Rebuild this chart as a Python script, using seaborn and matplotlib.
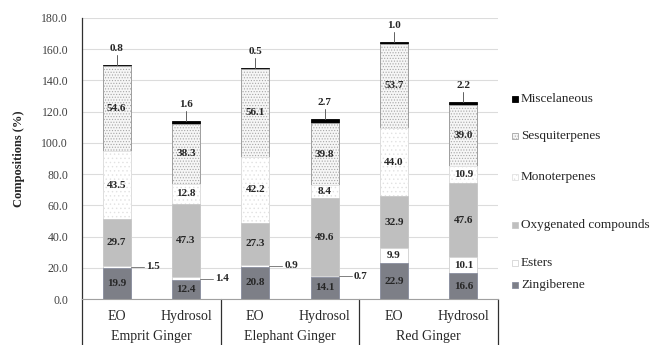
import matplotlib
matplotlib.use("Agg")
import matplotlib.pyplot as plt
import matplotlib.transforms as mtransforms
from matplotlib.patches import Rectangle
import numpy as np
import pandas as pd
import seaborn as sns

# ---------------- data ----------------
groups = ["Emprit Ginger", "Elephant Ginger", "Red Ginger"]
samples = ["EO", "Hydrosol"]
bar_ids = ["Emprit EO", "Emprit Hydrosol", "Elephant EO", "Elephant Hydrosol", "Red EO", "Red Hydrosol"]

zingiberene = [19.9, 12.4, 20.8, 14.1, 22.9, 16.6]
esters = [1.5, 1.4, 0.9, 0.7, 9.9, 10.1]
oxygenated = [29.7, 47.3, 27.3, 49.6, 32.9, 47.6]
monoterpenes = [43.5, 12.8, 42.2, 8.4, 44.0, 10.9]
sesquiterpenes = [54.6, 38.3, 56.1, 39.8, 53.7, 39.0]
miscellaneous = [0.8, 1.6, 0.5, 2.7, 1.0, 2.2]

series_names = ["Zingiberene", "Esters", "Oxygenated compounds", "Monoterpenes", "Sesquiterpenes", "Miscelaneous"]
series_values = [zingiberene, esters, oxygenated, monoterpenes, sesquiterpenes, miscellaneous]

yticks = [0, 20, 40, 60, 80, 100, 120, 140, 160, 180]

# ---------------- styles ----------------
styles = {
    "Zingiberene": dict(color="#7d7f87", edgecolor="#8a8fa0", hatch=None),
    "Esters": dict(color="#ffffff", edgecolor="#d4d4d4", hatch=None),
    "Oxygenated compounds": dict(color="#bfbfbf", edgecolor="#c8c8c8", hatch=None),
    "Monoterpenes": dict(color="#ffffff", edgecolor="#e2e2e2", hatch="...."),
    "Sesquiterpenes": dict(color="#f6f6f6", edgecolor="#a6a6a6", hatch="......"),
    "Miscelaneous": dict(color="#000000", edgecolor="#000000", hatch=None),
}

sns.set_theme(style="white")
plt.rcParams["font.family"] = ["Liberation Serif", "DejaVu Serif"]
plt.rcParams["hatch.linewidth"] = 0.5

fig = plt.figure(figsize=(6.53, 3.45), dpi=100)
ax = fig.add_axes([82 / 653, 1 - 299 / 345, (498 - 82) / 653, (299 - 18) / 345])

df = pd.DataFrame({"bar": bar_ids})
cum = np.cumsum(np.array(series_values), axis=0)

# draw from top layer to bottom so the lower layers cover the upper totals
for i in range(len(series_names) - 1, -1, -1):
    name = series_names[i]
    st = styles[name]
    d = df.copy()
    d["val"] = cum[i]
    kw = dict(edgecolor=st["edgecolor"], linewidth=0.6)
    if st["hatch"]:
        kw["hatch"] = st["hatch"]
    sns.barplot(data=d, x="bar", y="val", order=bar_ids, color=st["color"],
                saturation=1, width=0.4, ax=ax, zorder=2, **kw)

ax.set_xlim(-0.5, 5.5)
ax.set_ylim(0, 180)
ax.set_yticks(yticks)
ax.set_yticklabels([f"{v:.1f}" for v in yticks], fontsize=8.5, color="#404040")
ax.tick_params(axis="y", length=0, pad=10)
ax.yaxis.grid(True, color="#dcdcdc", linewidth=0.8, zorder=0)
ax.set_axisbelow(True)
ax.set_xticks(range(6))
ax.set_xticklabels(samples * 3, fontsize=10)
ax.tick_params(axis="x", length=0, pad=8)
ax.set_xlabel("")
ax.set_ylabel("Compositions (%)", fontsize=9, fontweight="bold", labelpad=12)

for s in ["top", "right"]:
    ax.spines[s].set_visible(False)
ax.spines["bottom"].set_color("#a0a0a0")
ax.spines["bottom"].set_linewidth(0.8)
ax.spines["left"].set_color("#303030")
ax.spines["left"].set_linewidth(0.9)

# group separators and group labels below axis
trans = mtransforms.blended_transform_factory(ax.transData, ax.transAxes)
for xb in [-0.5, 1.5, 3.5, 5.5]:
    ax.plot([xb, xb], [0, -0.17], transform=trans, color="#303030", lw=0.9, clip_on=False)
for gi, g in enumerate(groups):
    ax.text(2 * gi + 0.5, -0.135, g, transform=trans, ha="center", va="center", fontsize=10)

# value labels
lab_kw = dict(fontsize=8, fontweight="bold", ha="center", va="center", zorder=5)
for j in range(6):
    bottoms = np.concatenate([[0], cum[:, j]])
    for i, name in enumerate(series_names):
        v = series_values[i][j]
        mid = bottoms[i] + v / 2
        if name == "Miscelaneous":
            top = cum[-1, j]
            ax.plot([j, j], [top, top + 6.5], color="#606060", lw=0.7, zorder=3)
            ax.text(j, top + 10.5, f"{v:.1f}", **lab_kw)
        elif name == "Esters" and v < 5:
            ax.plot([j + 0.2, j + 0.39], [mid, mid], color="#808080", lw=0.7, zorder=3)
            ax.text(j + 0.42, mid, f"{v:.1f}", fontsize=8, fontweight="bold",
                    ha="left", va="center", zorder=5)
        else:
            ax.text(j, mid, f"{v:.1f}", **lab_kw)

# legend (manually positioned entries)
legend_y = {"Miscelaneous": 99, "Sesquiterpenes": 136, "Monoterpenes": 177,
            "Oxygenated compounds": 225, "Esters": 263, "Zingiberene": 285}
for name in series_names[::-1]:
    st = styles[name]
    yp = legend_y[name]
    w = 6 / 653
    h = 6 / 345
    rect = Rectangle((512 / 653, 1 - (yp + 3) / 345), w, h, transform=fig.transFigure,
                     facecolor=st["color"], edgecolor=st["edgecolor"], lw=0.6,
                     hatch=st["hatch"])
    fig.patches.append(rect)
    fig.text(521 / 653, 1 - yp / 345, name, ha="left", va="center", fontsize=9.5)

fig.savefig("out.png", dpi=100)
